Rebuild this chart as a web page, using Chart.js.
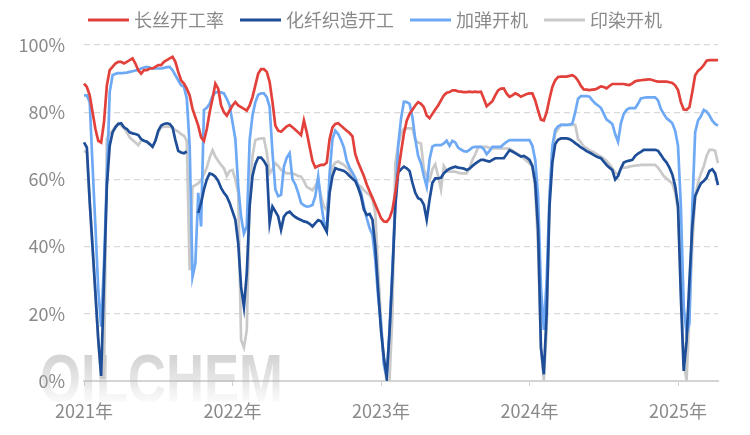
<!DOCTYPE html>
<html>
<head>
<meta charset="utf-8">
<script src="https://cdn.jsdelivr.net/npm/chart.js@4.4.1/dist/chart.umd.min.js"></script>
<style>
  html, body { margin: 0; padding: 0; background: #fff; }
  #wrap { width: 750px; height: 435px; }
</style>
</head>
<body>
<div id="wrap"><canvas id="chart" width="750" height="435"></canvas></div>
<script>
// weekly rates, first week of 2021 to early April 2025 (%)
const yearTicks = ['2021年', '2022年', '2023年', '2024年', '2025年'];
const seriesNames = ['长丝开工率', '化纤织造开工', '加弹开机', '印染开机'];

const filament = [
  88.5, 87.5, 85, 80, 75, 71.5, 71, 77, 88, 92.5,
  93.5, 94.5, 95, 95, 94.5, 95, 95.5, 96, 94.5, 92.5,
  91.5, 92.5, 92.5, 93, 93, 93.5, 94, 94, 95, 95.5,
  96, 96.5, 95, 92, 89.5, 88.5, 87, 85, 81, 78.5,
  76, 72.5, 71.5, 75, 80, 84, 88.5, 87, 82, 80,
  79, 80.5, 82, 83, 82, 81.5, 81, 80.5, 82, 84.5,
  88, 91.5, 92.8, 92.8, 92, 89, 83, 76, 74.5, 74.2,
  75, 75.8, 76.2, 75.5, 74.8, 74, 73.2, 77.5, 74, 69.7,
  65.5, 63.5, 64, 64.3, 64.3, 65, 72, 75.5, 76.5, 76.7,
  76, 75.2, 74.5, 73.8, 72.8, 67.5, 65, 63, 61, 58.5,
  56.5, 54.5, 52.5, 50.5, 48.5, 47.5, 47.4, 48.5, 51, 56,
  62, 68, 73.5, 77.5, 79.5, 80.7, 82, 83, 82.5, 81.5,
  79, 78.2, 79.5, 80.8, 82, 83.5, 85, 85.8, 86, 86.5,
  86.5, 86.2, 86.1, 86, 86, 86.1, 86, 86.1, 86, 86.1,
  84, 81.8, 82.5, 83.3, 85, 86.5, 87, 87.1, 85.5, 84.6,
  85, 85.6, 85.2, 84.6, 85, 85.4, 85.6, 85.6, 83.5, 80.5,
  77.8, 77.5, 80, 84, 87.5, 89.5, 90.5, 90.6, 90.6, 90.6,
  90.8, 91, 90.5, 89.4, 87.8, 86.8, 86.7, 86.6, 86.7, 86.8,
  87.2, 87.7, 87.5, 87.1, 87.8, 88.4, 88.4, 88.4, 88.4, 88.4,
  88.2, 88.1, 88.6, 89.2, 89.4, 89.5, 89.6, 89.7, 89.8, 89.6,
  89.3, 89.1, 89.1, 89.1, 89.1, 88.9, 88.7, 88, 86.6, 83,
  80.8, 80.7, 81.5, 86, 91, 92.3, 93, 94, 95.3, 95.5,
  95.5, 95.5, 95.5
];

const weaving = [
  71, 69.5, 53.4, 39.7, 26, 12.3, 1.5, 30, 58, 70,
  74, 75.5, 76.5, 76.7, 75.5, 75, 74, 73.7, 73.5, 73.2,
  72, 71.5, 71.2, 70.5, 69.7, 71.5, 74.5, 76, 76.5, 76.7,
  76.5, 75.5, 71.7, 68.5, 68, 67.8, 68.3, null, null, null,
  50, 53, 57, 60, 61.8, 61.5, 60.8, 59.5, 57.5, 56,
  54.9, 53, 50.5, 48, 41, 28, 22, 32, 52, 61,
  64.5, 66.5, 66.5, 65.5, 64, 47, 51.9, 50.5, 49, 45,
  48.9, 50, 50.4, 49.5, 48.8, 48.3, 47.9, 47.5, 47.3, 46.8,
  46, 47, 47.9, 47.5, 46, 44.4, 56, 61, 63.3, 63,
  62.8, 62.5, 61.9, 61, 60.2, 59.5, 57.5, 55, 51, 49.4,
  49.7, 48, 40, 27, 15, 7, 1, 15, 32, 52,
  62, 63, 63.8, 63.3, 62.5, 59, 56, 54.4, 54, 52.5,
  48, 54, 59, 60.3, 60.3, 60.5, 61.8, 62.6, 63.2, 63.5,
  63.8, 63.5, 63.4, 63.2, 62.8, 63.2, 64, 64.7, 65.3, 65.8,
  65.8, 65.5, 65.3, 65.8, 66.3, 66.3, 66.3, 66.3, 67.5, 68.7,
  68.3, 67.8, 67.3, 66.8, 67, 66.5, 65.8, 64, 59, 45,
  10, 2, 20, 52, 65, 70.5, 71.8, 72.2, 72.2, 72.2,
  72, 71.5, 70.8, 70.2, 69.5, 69, 68.4, 68, 67.5, 67,
  66.6, 66.3, 65.3, 64.3, 63.5, 62.8, 60, 61, 63.3, 65,
  65.4, 65.6, 65.8, 67, 67.7, 68.2, 68.8, 68.8, 68.8, 68.8,
  68.8, 68.5, 67.3, 66, 65, 63.5, 61.5, 58, 52, 25,
  3, 12, 30, 46, 55, 57, 58.8, 59.5, 60.5, 62.5,
  63, 61.8, 58.3
];

const texturing = [
  85, 85, 83, 64, 46, 27, 16.2, 35, 60, 86,
  91, 91.4, 91.6, 91.6, 91.7, 91.8, 92, 92.2, 92.4, 92.6,
  93, 93.3, 93.5, 93.3, 93, 93, 93, 93, 93.2, 93.4,
  93.5, 92.5, 91, 89.5, 88, 87.6, 84, 70, 31, 35,
  56, 46, 80.7, 81.3, 82.5, 84.8, 85.8, 86.1, 85.9, 85.6,
  84, 82, 77, 72, 58, 49, 43.9, 46, 71.7, 79,
  83, 85.2, 85.6, 85.6, 84.5, 81.6, 68, 57, 55, 55.4,
  63.8, 66.5, 67.8, 60, 58.5, 56, 53, 52.3, 51.9, 52,
  52.4, 55, 60.8, 53, 47.5, 45, 61.8, 72, 74.5, 73.5,
  71.7, 69.5, 65.5, 63.5, 62, 60.5, 58, 56, 52, 48.5,
  45.5, 43.5, 36, 25, 17, 5, 1.3, 15, 34, 52,
  70, 78, 83.1, 83, 82.5, 78.5, 72, 67, 64.8, 61,
  57.8, 66, 69.8, 70.2, 70.2, 70.2, 70.7, 71.5, 70, 71.5,
  71, 69.5, 68.9, 68.4, 68.3, 68.8, 69.5, 69.7, 69.7, 69.7,
  69, 67.5, 68.5, 69.7, 69.7, 69.7, 69.7, 70.5, 71.2, 71.7,
  71.7, 71.7, 71.7, 71.7, 71.7, 71.7, 71.7, 70, 65.8, 55,
  28, 15.2, 30, 55, 70, 74.7, 75.8, 76.2, 76.2, 76.2,
  76.3, 76.6, 80, 84, 84.8, 84.8, 84.8, 84.6, 83.5, 82.6,
  82, 81.3, 79.5, 77.8, 77.2, 76.5, 73.5, 71.2, 76.7, 79.5,
  80.7, 81.2, 81.2, 81.2, 82.5, 84.1, 84.3, 84.4, 84.4, 84.4,
  84.4, 83.5, 81, 79.5, 78.2, 77.5, 76.7, 74.5, 70, 52,
  22, 14.2, 17.2, 51.9, 74, 77.5, 78.8, 80.7, 80.2, 79,
  77.5, 76.5, 76
];

const dyeing = [
  68.5, 68, 53, 40, 26, 12, 1, 1, 72, 73.7,
  74.5, 75.8, 76.7, 76, 75.2, 74, 72.5, 71.7, 71, 70.2,
  71.5, 71.5, 71.2, 70.5, 69.7, 71.5, 74, 75.5, 75.7, 75.7,
  75.7, 75.2, 74.7, 74.2, 73.5, 73, 71.5, 33, 57.8, 58.3,
  58.8, 59.8, 61.5, 63.5, 66.5, 68.7, 66.8, 65.5, 64.3, 63.3,
  61, 62.5, 62.8, 60, 55.9, 12.2, 10, 15.2, 55, 67,
  71.7, 72, 72.2, 72.2, 68, 61.8, 63, 64.8, 64, 62.8,
  62.3, 61.8, 61.8, 61.8, 61.5, 61, 60.8, 59.5, 57.8, 57.3,
  56.8, 58, 59.8, 55, 51.9, 50.9, 58, 63.8, 65, 65.3,
  64.8, 64.3, 63.5, 62.5, 61, 59.5, 58.5, 57.8, 56.8, 56,
  55.4, 54, 50, 33, 18, 5, 0, 0.5, 20, 64.8,
  70, 73.7, 75, 75.2, 75.2, 75.2, 71.7, 71, 70.7, 63,
  61, 59.8, 63, 64.5, 61, 57, 64, 62.5, 62.3, 62.3,
  62.3, 62, 61.8, 61.8, 61.8, 63.5, 65.8, 67.5, 69.5, 69.7,
  69.7, 69.7, 69.4, 69.2, 69.2, 69.2, 69.2, 69.2, 69.2, 69.2,
  68.6, 68, 67.5, 67, 66.3, 65.5, 64.8, 63.8, 57, 40,
  10, 0.3, 15, 55, 68, 73.7, 75, 76.2, 76.2, 76.2,
  76.2, 76.2, 76.2, 72, 71, 69.8, 69.3, 68.7, 68.3, 67.8,
  67.3, 66.8, 66.2, 65.5, 64.5, 63.3, 62, 61.5, 63.3, 63.5,
  63.6, 63.8, 64, 64.1, 64.2, 64.3, 64.3, 64.3, 64.3, 64.3,
  64.3, 63.5, 62.3, 61, 60.3, 59.5, 58.8, 56, 51, 30,
  5, 0.3, 20, 40, 54.9, 59, 61.8, 63.8, 67, 68.8,
  68.8, 68.5, 64.8
];

// one category per week, 52 weeks per year label
const weeks = [];
for (let i = 0; i < filament.length; i++) {
  weeks.push((2021 + Math.floor(i / 52)) + '-W' + (i % 52 + 1));
}

const colors = ['#e2403a', '#1f4e99', '#6ea9f5', '#c9c9c9'];
const textGray = '#8a8a8a';
const font = { family: '"Noto Sans CJK SC", "Noto Sans", sans-serif', size: 18 };

// line legend drawn at the top like the source
const topLegend = {
  id: 'topLegend',
  afterDraw(chart) {
    const ctx = chart.ctx;
    ctx.save();
    ctx.font = '18px "Noto Sans CJK SC"';
    ctx.textBaseline = 'middle';
    const items = chart.data.datasets.map(ds => ({
      text: ds.label,
      color: ds.borderColor,
      w: 41 + 5 + ctx.measureText(ds.label).width
    }));
    const total = items.reduce((s, it) => s + it.w, 0) + 16 * (items.length - 1);
    let x = (chart.width - total) / 2;
    items.forEach(it => {
      ctx.fillStyle = it.color;
      ctx.fillRect(x, 18.5, 41, 3);
      ctx.fillStyle = textGray;
      ctx.fillText(it.text, x + 46, 20);
      x += it.w + 16;
    });
    ctx.restore();
  }
};

// faded watermark behind the lines
const watermark = {
  id: 'watermark',
  beforeDatasetsDraw(chart) {
    const ctx = chart.ctx;
    ctx.save();
    const g = ctx.createLinearGradient(0, 350, 0, 406);
    g.addColorStop(0, 'rgba(175,175,175,0.6)');
    g.addColorStop(0.55, 'rgba(175,175,175,0.3)');
    g.addColorStop(1, 'rgba(175,175,175,0)');
    ctx.fillStyle = g;
    ctx.font = 'bold 68px "Liberation Sans"';
    ctx.textBaseline = 'alphabetic';
    ctx.fillText('OILCHEM', 40, 402, 243);
    ctx.restore();
  }
};

new Chart(document.getElementById('chart'), {
  type: 'line',
  data: {
    labels: weeks,
    datasets: [filament, weaving, texturing, dyeing].map((d, k) => ({
      label: seriesNames[k],
      data: d,
      borderColor: colors[k],
      backgroundColor: colors[k],
      borderWidth: 2.7,
      pointRadius: 0,
      tension: 0,
      spanGaps: false
    }))
  },
  options: {
    responsive: false,
    animation: false,
    devicePixelRatio: 1,
    layout: { padding: { top: 45, right: 32, left: 0, bottom: 0 } },
    plugins: {
      legend: { display: false },
      tooltip: { enabled: false }
    },
    scales: {
      x: {
        grid: {
          drawOnChartArea: false,
          tickLength: 5,
          color: c => (c.index % 52 === 0 ? '#cfcfcf' : 'rgba(0,0,0,0)')
        },
        border: { color: '#d4d4d4', width: 2 },
        ticks: {
          autoSkip: false,
          maxRotation: 0,
          padding: 14,
          color: textGray,
          font: font,
          callback: (v, i) => (i % 52 === 0 ? yearTicks[i / 52] : '')
        },
        afterFit: s => { s.height = 54; }
      },
      y: {
        min: 0,
        max: 100,
        grid: {
          drawTicks: false,
          color: c => (c.tick.value === 0 ? 'rgba(0,0,0,0)' : '#d9d9d9'),
          lineWidth: 1.2
        },
        border: { display: false, dash: [6, 4] },
        ticks: {
          stepSize: 20,
          padding: 19,
          color: textGray,
          font: font,
          callback: v => v + '%'
        },
        afterFit: s => { s.width = 84; }
      }
    }
  },
  plugins: [watermark, topLegend]
});
</script>
</body>
</html>
